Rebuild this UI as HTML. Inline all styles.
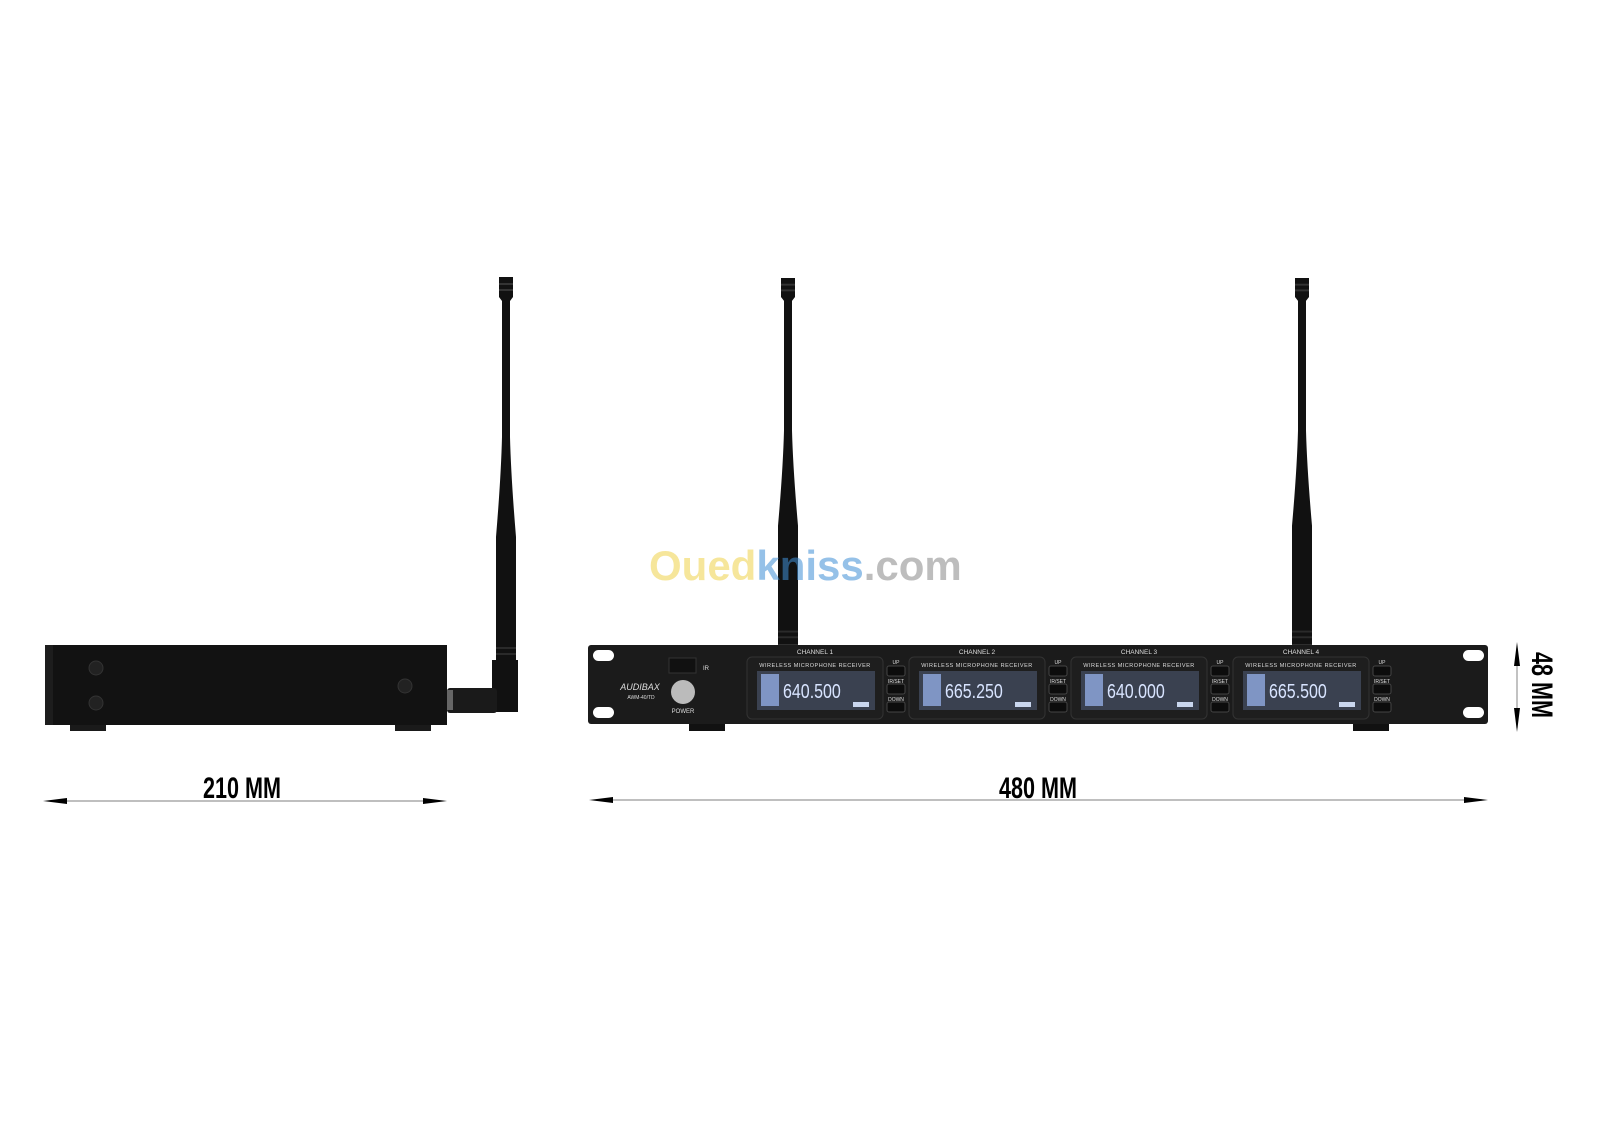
<!DOCTYPE html>
<html><head><meta charset="utf-8"><style>
html,body{margin:0;padding:0;background:#fff;}
svg{display:block}
.dim{font-family:"Liberation Sans",sans-serif;font-weight:bold;font-size:30px;fill:#000}
.s{font-family:"Liberation Sans",sans-serif;fill:#ddd}
.lcd{font-family:"Liberation Sans",sans-serif;fill:#d8e4ff}
</style></head><body>
<svg width="1600" height="1130" viewBox="0 0 1600 1130" xmlns="http://www.w3.org/2000/svg">
<defs>
<g id="ant">
<path d="M-7,0 L7,0 L7,20 L4,24 L4,160 Q5,200 10,260 L10,385 L-10,385 L-10,260 Q-5,200 -4,160 L-4,24 L-7,20 Z" fill="#111"/>
<rect x="-7" y="6" width="14" height="2" fill="#333"/>
<rect x="-7" y="12" width="14" height="2" fill="#333"/>
<rect x="-10" y="370" width="20" height="2" fill="#2a2a2a"/>
<rect x="-10" y="376" width="20" height="2" fill="#2a2a2a"/>
</g>
<g id="mod">
<rect x="0" y="0" width="136" height="62" rx="5" fill="#1e1e1e" stroke="#333"/>
<text x="68" y="10" font-size="5.5" text-anchor="middle" class="s" letter-spacing="0.5">WIRELESS MICROPHONE RECEIVER</text>
<rect x="10" y="14" width="118" height="39" fill="#3a4150"/>
<rect x="14" y="17" width="18" height="32" fill="#7f95c4"/>
<rect x="106" y="45" width="16" height="5" fill="#c9d6ee"/>
</g>
<g id="btn">
<text x="9" y="-2" font-size="5" text-anchor="middle" class="s">UP</text>
<rect x="0" y="0" width="18" height="10" rx="2" fill="#0c0c0c" stroke="#444"/>
<text x="9" y="17" font-size="5" text-anchor="middle" class="s">IR/SET</text>
<rect x="0" y="18" width="18" height="10" rx="2" fill="#0c0c0c" stroke="#444"/>
<text x="9" y="35" font-size="5" text-anchor="middle" class="s">DOWN</text>
<rect x="0" y="36" width="18" height="10" rx="2" fill="#0c0c0c" stroke="#444"/>
</g>
</defs>

<!-- side view -->
<use href="#ant" x="506" y="277"/>
<rect x="492" y="660" width="26" height="52" fill="#111"/>
<rect x="447" y="688" width="50" height="25" rx="3" fill="#1a1a1a"/>
<rect x="447" y="690" width="6" height="20" fill="#666"/>
<rect x="45" y="645" width="402" height="80" fill="#121212"/>
<rect x="45" y="645" width="8" height="80" fill="#1d1d1d"/>
<circle cx="96" cy="668" r="7" fill="#222" stroke="#333"/>
<circle cx="96" cy="703" r="7" fill="#222" stroke="#333"/>
<circle cx="405" cy="686" r="7" fill="#222" stroke="#333"/>
<rect x="70" y="725" width="36" height="6" fill="#1a1a1a"/>
<rect x="395" y="725" width="36" height="6" fill="#1a1a1a"/>

<!-- dimension 210 -->
<line x1="50" y1="801" x2="440" y2="801" stroke="#999" stroke-width="1.2"/>
<path d="M43,801 L67,798 L67,804 Z" fill="#000"/>
<path d="M447,801 L423,798 L423,804 Z" fill="#000"/>
<text class="dim" x="242" y="798" text-anchor="middle" transform="translate(242 0) scale(0.72 1) translate(-242 0)">210 MM</text>

<!-- front view antennas -->
<use href="#ant" transform="translate(788 278) scale(1 0.953)"/>
<use href="#ant" transform="translate(1302 278) scale(1 0.953)"/>

<!-- watermark -->
<text x="649" y="580" font-family="Liberation Sans,sans-serif" font-weight="bold" font-size="42" opacity="0.55"><tspan fill="#f0d24a">Oued</tspan><tspan fill="#3f8fd6">kniss</tspan><tspan fill="#888">.com</tspan></text>

<!-- front panel -->
<rect x="588" y="645" width="900" height="79" rx="3" fill="#1b1b1b"/>
<rect x="593" y="650" width="21" height="11" rx="5.5" fill="#fff"/>
<rect x="593" y="707" width="21" height="11" rx="5.5" fill="#fff"/>
<rect x="1463" y="650" width="21" height="11" rx="5.5" fill="#fff"/>
<rect x="1463" y="707" width="21" height="11" rx="5.5" fill="#fff"/>
<rect x="689" y="724" width="36" height="7" fill="#111"/>
<rect x="1353" y="724" width="36" height="7" fill="#111"/>
<text x="640" y="690" font-size="9" font-style="italic" text-anchor="middle" class="s">AUDIBAX</text>
<text x="641" y="699" font-size="5" text-anchor="middle" class="s">AWM-40/TD</text>
<rect x="669" y="658" width="27" height="15" fill="#111" stroke="#333"/>
<text x="703" y="670" font-size="6" class="s">IR</text>
<circle cx="683" cy="692" r="12" fill="#bbb"/>
<text x="683" y="713" font-size="6" text-anchor="middle" class="s">POWER</text>

<use href="#mod" x="747" y="657"/>
<use href="#mod" x="909" y="657"/>
<use href="#mod" x="1071" y="657"/>
<use href="#mod" x="1233" y="657"/>
<text x="815" y="654" font-size="6.5" text-anchor="middle" class="s">CHANNEL 1</text>
<text x="977" y="654" font-size="6.5" text-anchor="middle" class="s">CHANNEL 2</text>
<text x="1139" y="654" font-size="6.5" text-anchor="middle" class="s">CHANNEL 3</text>
<text x="1301" y="654" font-size="6.5" text-anchor="middle" class="s">CHANNEL 4</text>
<text x="783" y="698" font-size="20" class="lcd" transform="translate(783 0) scale(0.8 1) translate(-783 0)">640.500</text>
<text x="945" y="698" font-size="20" class="lcd" transform="translate(945 0) scale(0.8 1) translate(-945 0)">665.250</text>
<text x="1107" y="698" font-size="20" class="lcd" transform="translate(1107 0) scale(0.8 1) translate(-1107 0)">640.000</text>
<text x="1269" y="698" font-size="20" class="lcd" transform="translate(1269 0) scale(0.8 1) translate(-1269 0)">665.500</text>
<use href="#btn" x="887" y="666"/>
<use href="#btn" x="1049" y="666"/>
<use href="#btn" x="1211" y="666"/>
<use href="#btn" x="1373" y="666"/>

<!-- dimension 480 -->
<line x1="596" y1="800" x2="1482" y2="800" stroke="#999" stroke-width="1.2"/>
<path d="M589,800 L613,797 L613,803 Z" fill="#000"/>
<path d="M1488,800 L1464,797 L1464,803 Z" fill="#000"/>
<text class="dim" x="1038" y="798" text-anchor="middle" transform="translate(1038 0) scale(0.72 1) translate(-1038 0)">480 MM</text>

<!-- dimension 48 -->
<line x1="1517" y1="648" x2="1517" y2="728" stroke="#999" stroke-width="1.2"/>
<path d="M1517,642 L1514,666 L1520,666 Z" fill="#000"/>
<path d="M1517,732 L1514,708 L1520,708 Z" fill="#000"/>
<text class="dim" x="0" y="0" text-anchor="middle" transform="translate(1532 685) rotate(90) scale(0.72 1)">48 MM</text>
</svg>
</body></html>
